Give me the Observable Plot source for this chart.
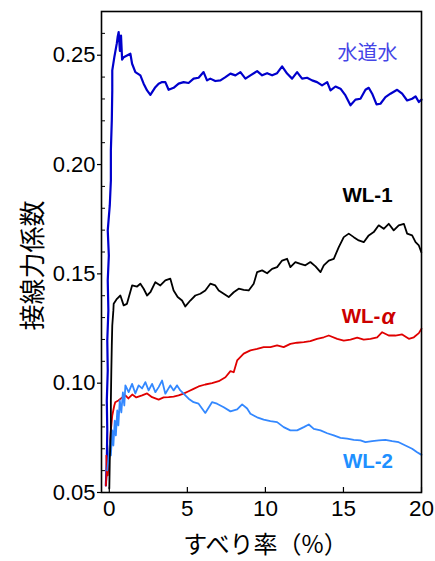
<!DOCTYPE html>
<html>
<head>
<meta charset="utf-8">
<script src="https://cdn.jsdelivr.net/npm/d3@7"></script>
<script src="https://cdn.jsdelivr.net/npm/@observablehq/plot@0.6"></script>
<style>
  html, body { margin: 0; padding: 0; background: #fff; }
</style>
</head>
<body>
<div id="chart"></div>
<script>
// すべり率 (%) , 接線力係数
const water = [
[-0.22,0.0532],[-0.16,0.0646],[-0.13,0.0784],[-0.16,0.0921],[-0.10,0.1058],[-0.13,0.1195],[-0.06,0.1333],[-0.10,0.1470],[-0.03,0.1584],[-0.10,0.1699],[0.03,0.1813],[0.10,0.1927],[0.10,0.2065],[0.16,0.2202],[0.19,0.2339],[0.19,0.2431],[0.32,0.2490],[0.48,0.2554],[0.54,0.2586],[0.60,0.2606],[0.68,0.2520],[0.75,0.2590],[0.82,0.2480],[0.92,0.2491],[1.35,0.2507],[1.46,0.2461],[1.67,0.2423],[1.99,0.2408],[2.20,0.2370],[2.42,0.2339],[2.63,0.2319],[2.95,0.2354],[3.16,0.2370],[3.38,0.2377],[3.59,0.2377],[3.80,0.2342],[4.12,0.2351],[4.44,0.2370],[4.76,0.2377],[5.08,0.2373],[5.40,0.2393],[5.72,0.2397],[6.04,0.2423],[6.26,0.2385],[6.47,0.2393],[6.79,0.2382],[7.12,0.2385],[7.44,0.2400],[7.76,0.2416],[8.08,0.2408],[8.40,0.2423],[8.72,0.2393],[9.04,0.2408],[9.47,0.2427],[9.79,0.2408],[10.11,0.2418],[10.43,0.2408],[10.75,0.2418],[11.07,0.2449],[11.39,0.2416],[11.71,0.2393],[12.03,0.2423],[12.35,0.2393],[12.67,0.2397],[12.99,0.2385],[13.31,0.2377],[13.63,0.2362],[13.96,0.2377],[14.17,0.2339],[14.49,0.2357],[14.81,0.2347],[15.13,0.2316],[15.45,0.2271],[15.77,0.2297],[16.09,0.2301],[16.41,0.2342],[16.62,0.2351],[16.84,0.2324],[17.12,0.2275],[17.37,0.2278],[17.69,0.2308],[18.01,0.2324],[18.44,0.2342],[18.76,0.2324],[19.08,0.2293],[19.40,0.2301],[19.62,0.2312],[19.83,0.2286],[20.00,0.2297]
];
const wl1 = [
[0.00,0.0518],[0.03,0.0646],[0.10,0.0784],[0.10,0.0921],[0.13,0.1058],[0.16,0.1173],[0.19,0.1264],[0.26,0.1333],[0.28,0.1363],[0.49,0.1386],[0.71,0.1401],[0.92,0.1356],[1.13,0.1363],[1.46,0.1447],[1.78,0.1442],[1.99,0.1455],[2.20,0.1432],[2.42,0.1401],[2.63,0.1416],[2.95,0.1462],[3.27,0.1447],[3.59,0.1470],[3.91,0.1478],[4.12,0.1424],[4.38,0.1394],[4.66,0.1378],[4.87,0.1351],[5.19,0.1378],[5.51,0.1401],[5.83,0.1409],[6.15,0.1424],[6.47,0.1455],[6.79,0.1447],[7.01,0.1424],[7.33,0.1409],[7.65,0.1394],[7.97,0.1416],[8.29,0.1432],[8.61,0.1427],[8.93,0.1424],[9.25,0.1455],[9.47,0.1508],[9.79,0.1516],[10.11,0.1503],[10.43,0.1523],[10.75,0.1531],[11.07,0.1561],[11.39,0.1569],[11.60,0.1531],[11.92,0.1554],[12.24,0.1546],[12.56,0.1539],[12.88,0.1554],[13.21,0.1534],[13.53,0.1508],[13.74,0.1539],[14.06,0.1561],[14.38,0.1569],[14.70,0.1622],[15.02,0.1668],[15.34,0.1684],[15.66,0.1668],[15.98,0.1653],[16.30,0.1645],[16.62,0.1676],[16.94,0.1691],[17.26,0.1722],[17.58,0.1706],[17.90,0.1729],[18.22,0.1699],[18.54,0.1722],[18.87,0.1729],[19.08,0.1684],[19.40,0.1676],[19.62,0.1645],[19.83,0.1630],[19.99,0.1599]
];
const wlAlpha = [
[-0.22,0.0532],[-0.16,0.0601],[-0.19,0.0669],[-0.10,0.0578],[-0.03,0.0646],[0.03,0.0715],[0.10,0.0784],[0.19,0.0852],[0.32,0.0898],[0.38,0.0913],[0.58,0.0921],[0.83,0.0935],[1.03,0.0944],[1.22,0.0930],[1.47,0.0948],[1.73,0.0935],[2.10,0.0944],[2.42,0.0953],[2.74,0.0936],[3.16,0.0925],[3.48,0.0935],[3.80,0.0936],[4.12,0.0939],[4.44,0.0944],[4.76,0.0952],[5.08,0.0963],[5.40,0.0974],[5.72,0.0985],[6.15,0.0994],[6.58,0.1000],[7.01,0.1009],[7.44,0.1027],[7.76,0.1055],[7.97,0.1050],[8.19,0.1104],[8.61,0.1135],[9.04,0.1150],[9.47,0.1157],[9.89,0.1165],[10.32,0.1165],[10.75,0.1173],[11.17,0.1165],[11.60,0.1180],[12.03,0.1185],[12.46,0.1188],[12.88,0.1192],[13.31,0.1203],[13.74,0.1210],[14.06,0.1218],[14.60,0.1203],[15.02,0.1195],[15.45,0.1199],[15.88,0.1208],[16.30,0.1199],[16.73,0.1203],[17.16,0.1210],[17.48,0.1233],[17.90,0.1218],[18.33,0.1218],[18.76,0.1223],[19.19,0.1203],[19.51,0.1210],[19.83,0.1229],[20.00,0.1249]
];
const wl2 = [
[-0.13,0.0601],[-0.03,0.0669],[0.06,0.0738],[0.10,0.0669],[0.19,0.0784],[0.26,0.0715],[0.35,0.0829],[0.42,0.0761],[0.51,0.0875],[0.58,0.0807],[0.67,0.0921],[0.77,0.0866],[0.87,0.0958],[0.96,0.0898],[1.03,0.0990],[1.24,0.0959],[1.46,0.0997],[1.67,0.0953],[1.88,0.0990],[2.10,0.0976],[2.31,0.1005],[2.52,0.0967],[2.74,0.0997],[2.95,0.0959],[3.16,0.0982],[3.38,0.1012],[3.59,0.0952],[3.91,0.0990],[4.12,0.0967],[4.34,0.0990],[4.55,0.0967],[4.76,0.0952],[5.08,0.0929],[5.40,0.0913],[5.72,0.0906],[6.15,0.0864],[6.58,0.0913],[6.90,0.0906],[7.33,0.0890],[7.76,0.0871],[8.19,0.0880],[8.51,0.0903],[8.83,0.0884],[9.04,0.0860],[9.47,0.0844],[9.89,0.0833],[10.32,0.0826],[10.75,0.0822],[11.17,0.0799],[11.60,0.0784],[12.03,0.0784],[12.46,0.0799],[12.78,0.0811],[13.10,0.0791],[13.53,0.0784],[13.96,0.0771],[14.38,0.0761],[14.81,0.0750],[15.24,0.0746],[15.66,0.0741],[16.09,0.0738],[16.41,0.0730],[16.84,0.0735],[17.26,0.0738],[17.69,0.0741],[18.12,0.0735],[18.54,0.0730],[18.97,0.0715],[19.40,0.0700],[19.72,0.0684],[20.00,0.0672]
];
const xTicks = [0, 5, 10, 15, 20];
const yTicks = [0.05, 0.10, 0.15, 0.20, 0.25];
const yMinor = [0.06,0.07,0.08,0.09,0.11,0.12,0.13,0.14,0.16,0.17,0.18,0.19,0.21,0.22,0.23,0.24,0.26];
const xLabel = "すべり率（%）";
const yLabel = "接線力係数";

const W = 435, H = 561;
const mL = 101, mR = 14, mT = 11, mB = 69;
const fw = W - mL - mR, fh = H - mT - mB;
const jp = "'Noto Sans CJK JP', 'Noto Sans', sans-serif";
const latin = "'Liberation Sans', Arial, sans-serif";

const chart = Plot.plot({
  width: W, height: H,
  marginLeft: mL, marginRight: mR, marginTop: mT, marginBottom: mB,
  style: { fontFamily: latin, background: "#fff", color: "#000", overflow: "visible" },
  x: { domain: [-0.5, 20] },
  y: { domain: [0.05, 0.27] },
  marks: [
    Plot.axisX({ ticks: xTicks, tickSize: 0, tickPadding: 8, fontSize: 22.5, label: null, tickFormat: d => String(d) }),
    Plot.axisY({ ticks: yTicks, tickSize: 4, tickPadding: 2, fontSize: 22, label: null, tickFormat: d3.format(".2f"), strokeWidth: 1.2 }),
    Plot.tickX(xTicks, { x: d => d, insetTop: fh - 5, stroke: "#000", strokeWidth: 1.2 }),
    Plot.tickY(yMinor, { y: d => d, insetRight: fw - 4, stroke: "#000", strokeWidth: 1 }),
    Plot.line(water, { x: d => d[0], y: d => d[1], stroke: "#0000cc", strokeWidth: 2.2 }),
    Plot.line(wlAlpha, { x: d => d[0], y: d => d[1], stroke: "#e00000", strokeWidth: 1.8 }),
    Plot.line(wl2, { x: d => d[0], y: d => d[1], stroke: "#3388ff", strokeWidth: 1.8 }),
    Plot.line(wl1, { x: d => d[0], y: d => d[1], stroke: "#000000", strokeWidth: 1.8 }),
    Plot.frame({ stroke: "#000", strokeWidth: 1.6 }),
    Plot.text(["水道水"], { x: 16.54, y: 0.2508, text: d => d, fontFamily: jp, fontSize: 20, fill: "#4545e6", textAnchor: "middle", lineAnchor: "middle" }),
    Plot.text(["WL-1"], { x: 16.54, y: 0.1859, text: d => d, fontFamily: latin, fontWeight: "bold", fontSize: 20.5, fill: "#000", textAnchor: "middle", lineAnchor: "middle" }),
    Plot.text(["WL-"], { x: 17.37, y: 0.1305, text: d => d, fontFamily: latin, fontWeight: "bold", fontSize: 20.5, fill: "#cc0000", textAnchor: "end", lineAnchor: "middle" }),
    Plot.text(["α"], { x: 17.37, y: 0.1305, text: d => d, fontFamily: latin, fontStyle: "italic", fontWeight: "bold", fontSize: 22, fill: "#cc0000", textAnchor: "start", lineAnchor: "middle", dx: 1 }),
    Plot.text(["WL-2"], { x: 16.57, y: 0.0642, text: d => d, fontFamily: latin, fontWeight: "bold", fontSize: 20.5, fill: "#1e90ff", textAnchor: "middle", lineAnchor: "middle" }),
    Plot.text([xLabel], { frameAnchor: "bottom", text: d => d, dy: 53, dx: 4, fontFamily: jp, fontSize: 24, fill: "#000", lineAnchor: "middle" }),
    Plot.text([yLabel], { frameAnchor: "top-left", text: d => d, dx: -68, dy: 254, rotate: -90, fontFamily: jp, fontSize: 26, fill: "#000", textAnchor: "middle", lineAnchor: "middle" })
  ]
});
document.getElementById("chart").appendChild(chart);
</script>
</body>
</html>
